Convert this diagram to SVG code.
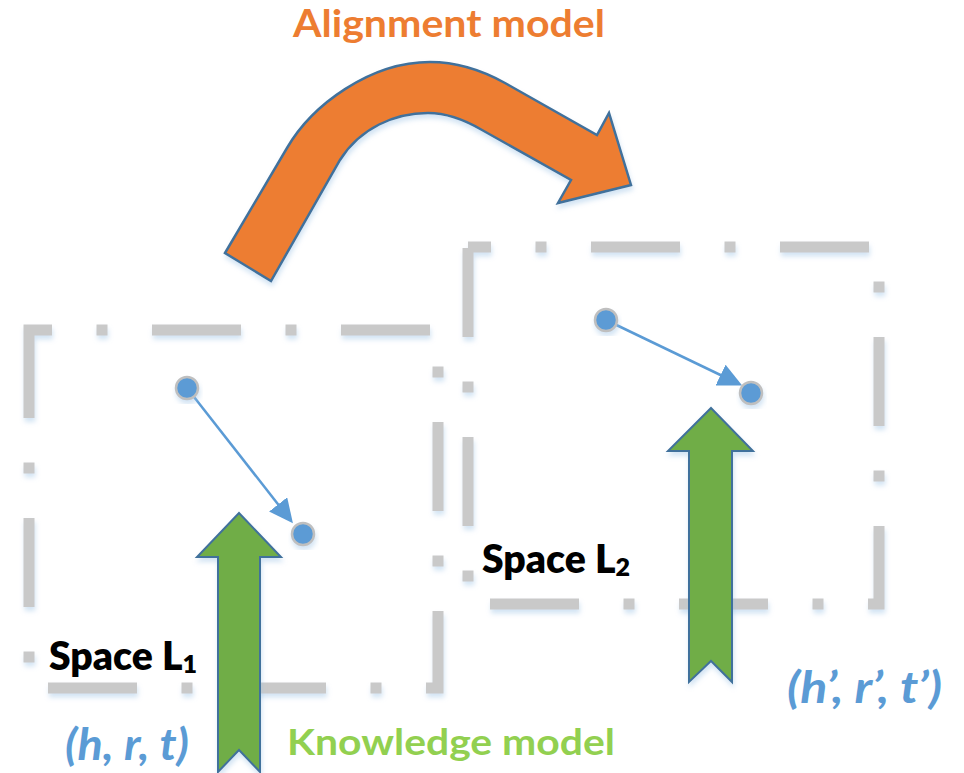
<svg xmlns="http://www.w3.org/2000/svg" width="964" height="773" viewBox="0 0 964 773">
  <style>
    .space { fill: none; stroke: #C9C9C9; stroke-width: 11; stroke-dasharray: 89 44.5 11 44.5; stroke-dashoffset: 66; filter: url(#glow); }
    .dot { fill: #5B9BD5; stroke: #BFBFBF; stroke-width: 2.5; filter: url(#glow); }
    .rel { fill: none; stroke: #5B9BD5; stroke-width: 2.5; marker-end: url(#head); }
    .green { fill: #70AD47; stroke: #41719C; stroke-width: 2; stroke-linejoin: miter; filter: url(#glow); }
    .orange { fill: #ED7D31; stroke: #41719C; stroke-width: 2.5; filter: url(#glow); }
    .lbl { font-family: Lato, "Liberation Sans", sans-serif; font-weight: bold; }
    .space-lbl { font-size: 39px; fill: #000000; font-weight: 800; }
    .sub { font-size: 25px; }
    .triple { font-size: 43px; fill: #5B9BD5; font-style: italic; }
  </style>
  <defs>
    <filter id="glow" x="-20%" y="-20%" width="140%" height="140%">
      <feGaussianBlur in="SourceAlpha" stdDeviation="2.5" result="b"/>
      <feOffset in="b" dx="1" dy="4" result="o"/>
      <feFlood flood-color="#9DC3E6" flood-opacity="0.45"/>
      <feComposite in2="o" operator="in" result="s"/>
      <feMerge><feMergeNode in="s"/><feMergeNode in="SourceGraphic"/></feMerge>
    </filter>
    <marker id="head" markerUnits="userSpaceOnUse" markerWidth="24" markerHeight="23" refX="16" refY="11.5" orient="auto">
      <path d="M0,0 L24,11.5 L0,23 Z" fill="#5B9BD5"/>
    </marker>
  </defs>

  <g id="space-l1">
    <rect class="space" x="29" y="330" width="409" height="358"/>
  </g>
  <g id="space-l2">
    <rect class="space" x="468" y="247" width="411" height="357"/>
  </g>

  <g id="connectors">
    <line class="rel" x1="187" y1="388" x2="288" y2="517"/>
    <line class="rel" x1="606" y1="320" x2="735" y2="382"/>
  </g>

  <g id="entity-h">
    <circle class="dot" cx="187" cy="388" r="11"/>
  </g>
  <g id="entity-t">
    <circle class="dot" cx="303" cy="534" r="11"/>
  </g>
  <g id="entity-h2">
    <circle class="dot" cx="606" cy="320" r="11"/>
  </g>
  <g id="entity-t2">
    <circle class="dot" cx="751" cy="393" r="11"/>
  </g>

  <g id="knowledge-arrow-1">
    <path class="green" d="M239,513 L281,557 L260,557 L260,772 L239,750 L218,772 L218,557 L197,557 Z"/>
  </g>
  <g id="knowledge-arrow-2">
    <path class="green" d="M711,408 L753,451 L732,451 L732,682 L711,661 L689,682 L689,451 L668,451 Z"/>
  </g>

  <g id="alignment-arrow">
    <path class="orange" d="M225,253 L287,148 C312,105 370,62 430,62 C455,62 478,68 505,83 L597,135 L609,113 L631,185 L558,203 L571,180 L482,130 C465,120 448,113 428,113 C395,113 360,128 340,160 L271,281 Z"/>
  </g>

  <g id="labels">
    <text class="lbl" x="293" y="37" font-size="38" fill="#ED7D31" textLength="312" lengthAdjust="spacingAndGlyphs">Alignment model</text>
    <text class="lbl space-lbl" x="49" y="670" textLength="148" lengthAdjust="spacingAndGlyphs">Space L<tspan class="sub" dy="3">1</tspan></text>
    <text class="lbl space-lbl" x="482" y="573" textLength="148" lengthAdjust="spacingAndGlyphs">Space L<tspan class="sub" dy="3">2</tspan></text>
    <text class="lbl triple" x="65" y="760" textLength="124" lengthAdjust="spacingAndGlyphs">(h, r, t)</text>
    <text class="lbl triple" x="787" y="703" textLength="155" lengthAdjust="spacingAndGlyphs">(h’, r’, t’)</text>
    <text class="lbl" x="287" y="755" font-size="37" fill="#92D050" textLength="328" lengthAdjust="spacingAndGlyphs">Knowledge model</text>
  </g>
</svg>
